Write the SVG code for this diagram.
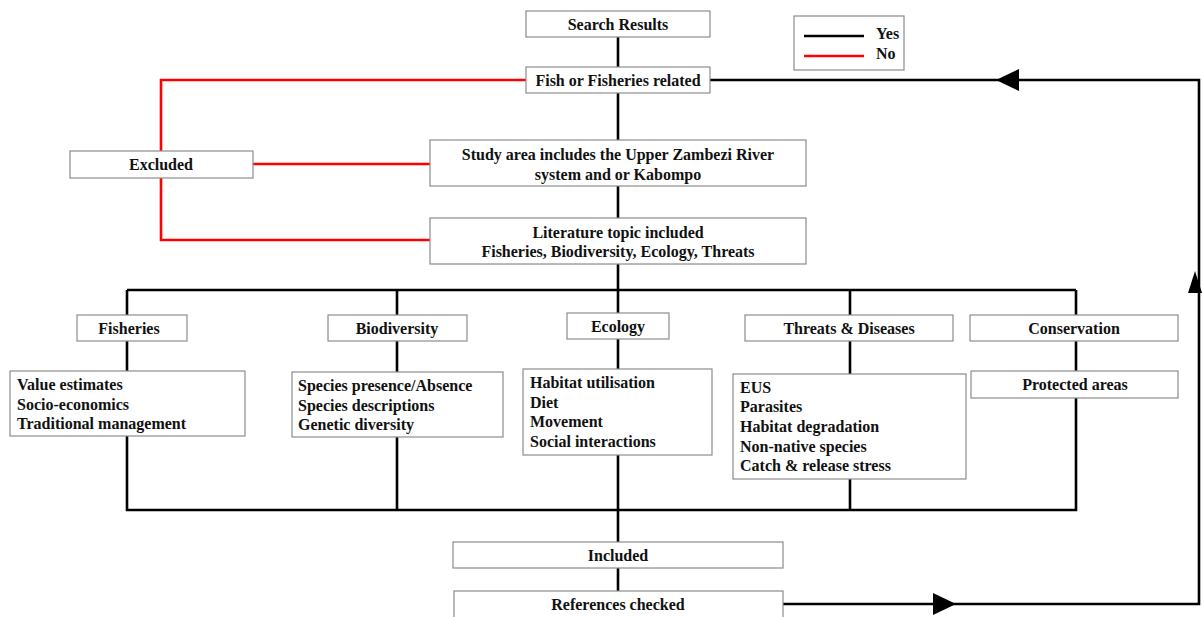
<svg xmlns="http://www.w3.org/2000/svg" width="1203" height="617" viewBox="0 0 1203 617">
<defs>
<style>
.box{fill:#fff;stroke:#8c8c8c;stroke-width:1.2}
.t{font-family:"Liberation Serif","Times New Roman",serif;font-weight:bold;font-size:16px;fill:#111}
.c{text-anchor:middle}
.k{fill:none;stroke:#000;stroke-width:2.6}
.r{fill:none;stroke:#f00;stroke-width:2.6}
</style>
</defs>
<rect width="1203" height="617" fill="#fff"/>
<g id="connectors">
<path class="k" d="M618,37 V67 M618,93 V140 M618,186 V218 M618,264 V290"/>
<path class="k" d="M127,290 H1076 M127,290 V510 H1076 V290 M397,290 V510 M618,290 V510 M850,290 V510"/>
<path class="k" d="M618,510 V542 M618,568 V591"/>
<path class="k" d="M783,604 H1199 V80 H710"/>
<path d="M933,593 L956,604 L933,615 z" fill="#000"/>
<path d="M1188,293 L1195,271 L1202,293 z" fill="#000"/>
<path d="M1019,69 L996,80 L1019,91 z" fill="#000"/>
<path class="r" d="M526,80 H161 V151 M253,164 H430 M161,178 V240 H430"/>
</g>
<g id="legend">
<rect class="box" x="794" y="16" width="110" height="54"/>
<line x1="804" y1="36" x2="864" y2="36" stroke="#000" stroke-width="2.4"/>
<line x1="804" y1="56" x2="864" y2="56" stroke="#f00" stroke-width="2.4"/>
<text class="t" x="876" y="39">Yes</text>
<text class="t" x="876" y="59">No</text>
</g>
<g id="search"><rect class="box" x="526" y="11" width="184" height="26"/><text class="t c" x="618" y="30">Search Results</text></g>
<g id="fish"><rect class="box" x="526" y="67" width="184" height="26"/><text class="t c" x="618" y="86">Fish or Fisheries related</text></g>
<g id="excluded"><rect class="box" x="70" y="151" width="183" height="27"/><text class="t c" x="161" y="170">Excluded</text></g>
<g id="study"><rect class="box" x="430" y="140" width="376" height="46"/><text class="t c" x="618" y="160">Study area includes the Upper Zambezi River</text><text class="t c" x="618" y="180">system and or Kabompo</text></g>
<g id="literature"><rect class="box" x="430" y="218" width="376" height="46"/><text class="t c" x="618" y="238">Literature topic included</text><text class="t c" x="618" y="257">Fisheries, Biodiversity, Ecology, Threats</text></g>
<g id="fisheries"><rect class="box" x="77" y="315" width="110" height="26"/><text class="t c" x="129" y="334">Fisheries</text></g>
<g id="biodiversity"><rect class="box" x="328" y="315" width="139" height="26"/><text class="t c" x="397" y="334">Biodiversity</text></g>
<g id="ecology"><rect class="box" x="567" y="313" width="102" height="26"/><text class="t c" x="618" y="332">Ecology</text></g>
<g id="threats"><rect class="box" x="745" y="315" width="208" height="26"/><text class="t c" x="849" y="334">Threats &amp; Diseases</text></g>
<g id="conservation"><rect class="box" x="970" y="315" width="208" height="26"/><text class="t c" x="1074" y="334">Conservation</text></g>
<g id="fisheries-topics"><rect class="box" x="10" y="371" width="235" height="65"/><text class="t" x="17" y="390">Value estimates</text><text class="t" x="17" y="410">Socio-economics</text><text class="t" x="17" y="429">Traditional management</text></g>
<g id="biodiversity-topics"><rect class="box" x="292" y="372" width="211" height="65"/><text class="t" x="298" y="391">Species presence/Absence</text><text class="t" x="298" y="411">Species descriptions</text><text class="t" x="298" y="430">Genetic diversity</text></g>
<g id="ecology-topics"><rect class="box" x="523" y="369" width="189" height="86"/><text class="t" x="530" y="388">Habitat utilisation</text><text class="t" x="530" y="408">Diet</text><text class="t" x="530" y="427">Movement</text><text class="t" x="530" y="447">Social interactions</text></g>
<g id="threats-topics"><rect class="box" x="733" y="374" width="233" height="105"/><text class="t" x="740" y="393">EUS</text><text class="t" x="740" y="412">Parasites</text><text class="t" x="740" y="432">Habitat degradation</text><text class="t" x="740" y="452">Non-native species</text><text class="t" x="740" y="471">Catch &amp; release stress</text></g>
<g id="protected"><rect class="box" x="971" y="371" width="207" height="27"/><text class="t c" x="1075" y="390">Protected areas</text></g>
<g id="included"><rect class="box" x="453" y="542" width="330" height="26"/><text class="t c" x="618" y="561">Included</text></g>
<g id="references"><rect class="box" x="454" y="591" width="329" height="30"/><text class="t c" x="618" y="610">References checked</text></g>
</svg>
